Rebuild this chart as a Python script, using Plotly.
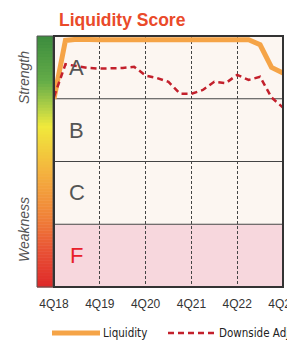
import plotly.graph_objects as go

# ---- data ----
quarters = [0, 0.25, 0.5, 0.75, 1, 1.25, 1.5, 1.75, 2, 2.25, 2.5, 2.75, 3,
            3.25, 3.5, 3.75, 4, 4.25, 4.5, 4.75, 5]
liquidity = [3.0, 3.93, 3.95, 3.94, 3.94, 3.94, 3.94, 3.94, 3.94, 3.94, 3.94,
             3.94, 3.94, 3.94, 3.94, 3.94, 3.94, 3.94, 3.86, 3.50, 3.41]
downside = [3.03, 3.55, 3.52, 3.49, 3.48, 3.48, 3.49, 3.51, 3.37, 3.33, 3.27,
            3.08, 3.08, 3.14, 3.27, 3.25, 3.38, 3.30, 3.35, 3.02, 2.86]
tick_vals = [0, 1, 2, 3, 4, 5]
tick_labels = ["4Q18", "4Q19", "4Q20", "4Q21", "4Q22", "4Q23"]
grades = ["F", "C", "B", "A"]

# page body has an 8px margin: figure pixel = window pixel - 8
O = 8
W, H = 295 - O, 347 - O
ML, MR, MT, MB = 54 - O, 12, 36 - O, 60
PW = W - ML - MR
PH = H - MT - MB


def px(xw):  # window x -> paper x
    return (xw - O - ML) / PW


def py(yw):  # window y -> paper y
    return (H - MB - (yw - O)) / PH


fig = go.Figure()
fig.add_trace(go.Scatter(x=quarters, y=liquidity, mode="lines", name="Liquidity",
                         line=dict(color="#f5a447", width=5), showlegend=False))
fig.add_trace(go.Scatter(x=quarters, y=downside, mode="lines", name="Downside Adj.",
                         line=dict(color="#c3202c", width=2.5, dash="6px,4px"),
                         showlegend=False))

shapes = []
for i, g in enumerate(grades):
    shapes.append(dict(type="rect", xref="x", yref="y", x0=0, x1=5, y0=i, y1=i + 1,
                       fillcolor="#f7d7dd" if g == "F" else "#fcf6f1",
                       line_width=0, layer="below"))
for i in range(1, 4):
    shapes.append(dict(type="line", xref="x", yref="y", x0=0, x1=5, y0=i, y1=i,
                       line=dict(color="#444", width=1.2), layer="below"))

stops = [(0.0, (60, 140, 62)), (0.18, (100, 172, 72)), (0.3, (190, 214, 70)),
         (0.36, (240, 234, 60)), (0.55, (244, 176, 62)), (0.72, (240, 130, 56)),
         (0.86, (232, 80, 52)), (1.0, (222, 40, 40))]


def col(t):
    for (t0, c0), (t1, c1) in zip(stops[:-1], stops[1:]):
        if t0 <= t <= t1:
            f = (t - t0) / (t1 - t0)
            return "rgb(%d,%d,%d)" % tuple(round(a + (b - a) * f) for a, b in zip(c0, c1))
    return "rgb(%d,%d,%d)" % stops[-1][1]


N = 84
bx0, bx1 = px(37), px(53)
for k in range(N):
    t = (k + 0.5) / N
    shapes.append(dict(type="rect", xref="paper", yref="paper", x0=bx0, x1=bx1,
                       y0=1 - (k + 1) / N - 0.002, y1=1 - k / N,
                       fillcolor=col(t), line_width=0))
shapes.append(dict(type="rect", xref="paper", yref="paper", x0=bx0, x1=bx1, y0=0, y1=1,
                   line=dict(color="#555", width=1)))
shapes.append(dict(type="rect", xref="paper", yref="paper", x0=0, x1=1, y0=0, y1=1,
                   line=dict(color="#333", width=2)))

ly = py(333)
shapes.append(dict(type="line", xref="paper", yref="paper",
                   x0=px(52), x1=px(100), y0=ly, y1=ly,
                   line=dict(color="#f5a447", width=5)))
shapes.append(dict(type="line", xref="paper", yref="paper",
                   x0=px(168), x1=px(216), y0=ly, y1=ly,
                   line=dict(color="#c3202c", width=2.5, dash="6px,4px")))

font = "Liberation Sans, Arial"
cond = "DejaVu Sans Condensed, Liberation Sans, Arial"
annotations = []
annotations.append(dict(text="Liquidity", xref="paper", yref="paper",
                        x=px(101), y=ly, xanchor="left", yanchor="middle",
                        showarrow=False, font=dict(family=cond, size=11.5, color="#222")))
annotations.append(dict(text="Downside Adj.", xref="paper", yref="paper",
                        x=px(217), y=ly, xanchor="left", yanchor="middle",
                        showarrow=False, font=dict(family=cond, size=11.5, color="#222")))
for i, g in enumerate(grades):
    annotations.append(dict(text=g, xref="x", yref="y", x=0.5, y=i + 0.5,
                            showarrow=False,
                            font=dict(family=font, size=22,
                                      color="#e8202a" if g == "F" else "#555")))
annotations.append(dict(text="<i>Strength</i>", xref="paper", yref="paper",
                        x=px(24), y=py(78), textangle=-90, xanchor="center",
                        yanchor="middle", showarrow=False,
                        font=dict(family=font, size=14, color="#555")))
annotations.append(dict(text="<i>Weakness</i>", xref="paper", yref="paper",
                        x=px(24), y=py(230), textangle=-90, xanchor="center",
                        yanchor="middle", showarrow=False,
                        font=dict(family=font, size=14, color="#555")))
annotations.append(dict(text="<b>Liquidity Score</b>", xref="paper", yref="paper",
                        x=px(57), y=py(20), xanchor="left", yanchor="middle",
                        showarrow=False, font=dict(family=font, size=17.5, color="#ea4a2a")))

fig.update_layout(
    width=W, height=H,
    margin=dict(l=ML, r=MR, t=MT, b=MB, autoexpand=False),
    paper_bgcolor="white", plot_bgcolor="#fcf6f1",
    shapes=shapes, annotations=annotations,
    xaxis=dict(range=[0, 5], tickvals=tick_vals, ticktext=tick_labels,
               showgrid=True, gridcolor="#444", griddash="3px,2px", gridwidth=1,
               zeroline=False, ticks="", ticklabelstandoff=8,
               ticklabeloverflow="allow", automargin=False,
               tickfont=dict(family=font, size=12, color="#333"),
               fixedrange=True, layer="below traces"),
    yaxis=dict(range=[0, 4], showgrid=False, zeroline=False, showticklabels=False,
               ticks="", fixedrange=True, automargin=False),
)
fig.write_html("out.html")
